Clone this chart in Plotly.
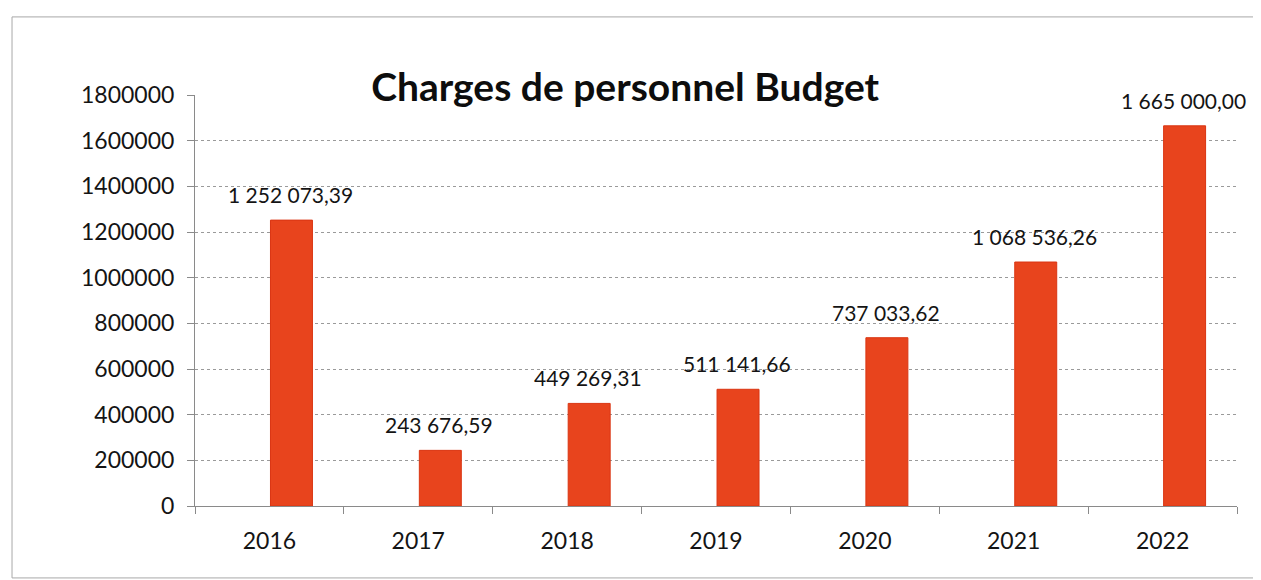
import plotly.graph_objects as go

years = ["2016", "2017", "2018", "2019", "2020", "2021", "2022"]
values = [1252073.39, 243676.59, 449269.31, 511141.66, 737033.62, 1068536.26, 1665000.00]
labels = ["1 252 073,39", "243 676,59", "449 269,31", "511 141,66",
          "737 033,62", "1 068 536,26", "1 665 000,00"]
y_ticks = [0, 200000, 400000, 600000, 800000, 1000000, 1200000, 1400000, 1600000, 1800000]

FONT = "Lato, Open Sans, sans-serif"
TXT = "#141414"

fig = go.Figure()
fig.add_trace(go.Bar(
    x=years, y=values,
    marker=dict(color="#E8441D", line=dict(color="#DA3512", width=1)),
    width=0.282, offset=0.007,
))

# annotations positioned by category index (numeric-looking category names)
for i, (v, lab) in enumerate(zip(values, labels)):
    fig.add_annotation(x=i, y=v, text=lab, showarrow=False,
                       xanchor="center", yanchor="bottom", xshift=21, yshift=11,
                       font=dict(size=21, color=TXT, family=FONT))

fig.update_layout(
    width=1253, height=572,
    margin=dict(l=187, r=24, t=87, b=74, autoexpand=False),
    paper_bgcolor="white", plot_bgcolor="white",
    showlegend=False,
    title=dict(text="<b>Charges de personnel Budget</b>", x=0.4925, xanchor="center",
               y=0.862, yanchor="middle",
               font=dict(size=39, color="#0d0d0d", family=FONT)),
    font=dict(family=FONT, size=23, color=TXT),
)
fig.update_yaxes(
    range=[0, 1800000], tickvals=y_ticks, ticktext=[str(v) for v in y_ticks],
    showgrid=True, gridcolor="#9a9a9a", gridwidth=1, griddash="dot",
    showline=True, linecolor="#8a8a8a", linewidth=1,
    ticks="outside", ticklen=7, tickcolor="#8a8a8a",
    tickfont=dict(size=23, color=TXT), ticklabelstandoff=8,
    zeroline=False,
)
fig.update_xaxes(
    type="category", categoryorder="array", categoryarray=years,
    range=[-0.5, len(years) - 0.5],
    showline=True, linecolor="#8a8a8a", linewidth=1,
    ticks="outside", ticklen=7, tickcolor="#8a8a8a", tickson="boundaries",
    tickfont=dict(size=23, color=TXT), ticklabelstandoff=14, tickangle=0,
    showgrid=False,
)
fig.add_shape(type="rect", xref="paper", yref="paper",
              x0=-0.1756, x1=1.0182, y0=-0.175, y1=1.19,
              line=dict(color="#a8a8a8", width=1))

fig.write_html("out.html")
